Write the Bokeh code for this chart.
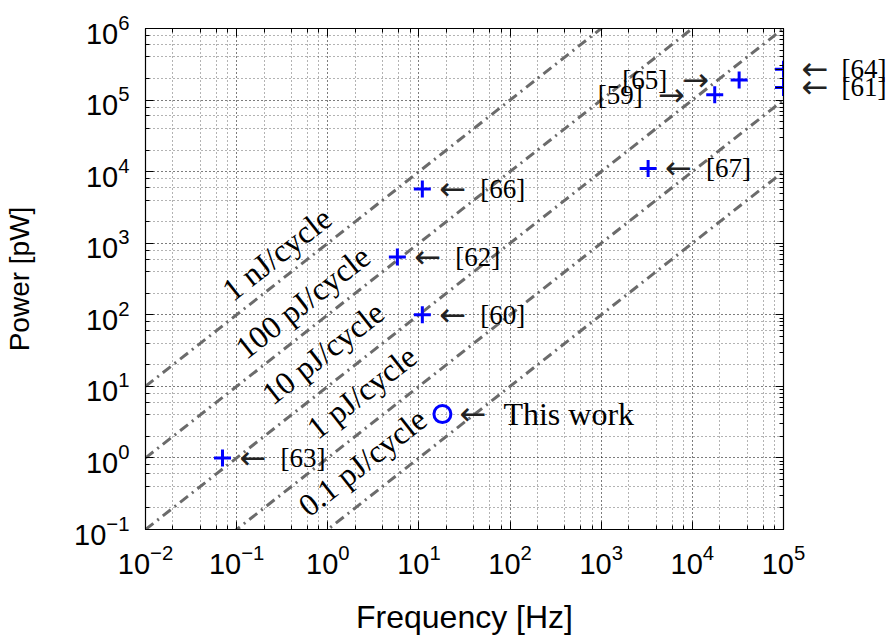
import math
from bokeh.plotting import figure
from bokeh.models import (LogAxis, LogTicker, FixedTicker, Range1d, ColumnDataSource,
                          LabelSet, Label)
from bokeh.embed import file_html
from bokeh.resources import INLINE

# ---- data ----
ref_names = ["[63]", "[62]", "[66]", "[60]", "[67]"]
ref_freq = [0.07, 5.8, 10.9, 10.9, 3270]
ref_power = [1.0, 640, 5700, 100, 11100]

edge_names = ["[64]", "[61]"]
edge_freq = [1.0e5, 1.0e5]
edge_power = [2.7e5, 1.5e5]

left_names = ["[65]", "[59]"]
left_freq = [32600, 17600]
left_power = [1.9e5, 1.19e5]

work_name = ["This work"]
work_freq = [18.1]
work_power = [4.1]

energy_pj = [1000, 100, 10, 1, 0.1]
energy_labels = ["1 nJ/cycle", "100 pJ/cycle", "10 pJ/cycle", "1 pJ/cycle", "0.1 pJ/cycle"]
# where each energy label's baseline centre sits (frequency, power)
energy_label_freq = [0.327, 0.63, 1.05, 2.8, 2.85]
energy_label_power = [536, 114, 22.2, 6.3, 0.66]

y_decades = [1e-1, 1e0, 1e1, 1e2, 1e3, 1e4, 1e5, 1e6]

x_lo, x_hi = 1e-2, 1e5
y_lo, y_hi = 1e-1, 1e6

SERIF = "Liberation Serif"
SANS = "Liberation Sans"
ARROWF = "DejaVu Sans"
ARROW_SIZE = "32px"
ARROW_COLOR = "#222222"
REF_SIZE = "27px"

p = figure(width=889, height=644, x_axis_type="log", y_axis_type="log",
           x_range=Range1d(x_lo, x_hi), y_range=Range1d(y_lo, y_hi),
           output_backend="svg", toolbar_location=None,
           min_border_left=145, min_border_right=106,
           min_border_top=28, min_border_bottom=115,
           x_axis_label="Frequency [Hz]", y_axis_label="Power [pW]")
p.background_fill_color = "white"
p.border_fill_color = "white"
p.outline_line_color = "black"
p.outline_line_width = 1.2

for g in (p.xgrid[0], p.ygrid[0]):
    g.grid_line_color = "black"
    g.grid_line_alpha = 0.6
    g.grid_line_dash = "1 3"
    g.grid_line_width = 1
    g.minor_grid_line_color = "black"
    g.minor_grid_line_alpha = 0.6
    g.minor_grid_line_dash = "1 3"
    g.minor_grid_line_width = 1


def style_axis(ax):
    ax.major_tick_in = 8
    ax.major_tick_out = 0
    ax.minor_tick_in = 4
    ax.minor_tick_out = 0
    ax.axis_line_color = "black"
    ax.major_tick_line_color = "black"
    ax.minor_tick_line_color = "black"
    ax.major_label_text_font = SANS
    ax.major_label_text_font_size = "29px"
    ax.major_label_text_color = "black"
    ax.axis_label_text_font = SANS
    ax.axis_label_text_font_size = "28px"
    ax.axis_label_text_font_style = "normal"
    ax.axis_label_text_color = "black"


style_axis(p.xaxis[0])
style_axis(p.yaxis[0])
p.xaxis[0].ticker = LogTicker(desired_num_ticks=8)
p.yaxis[0].ticker = LogTicker(desired_num_ticks=8)
p.xaxis[0].major_label_standoff = 14
p.yaxis[0].major_label_standoff = 16
p.xaxis[0].axis_label_standoff = 22
p.xaxis[0].axis_label_text_font_size = "32px"
p.yaxis[0].axis_label_standoff = 36

top_axis = LogAxis(ticker=LogTicker(desired_num_ticks=8))
style_axis(top_axis)
top_axis.major_label_text_font_size = "0px"
top_axis.major_label_text_alpha = 0
top_axis.major_label_standoff = 0
p.add_layout(top_axis, "above")

# right side: tick marks plus the arrows of the points sitting on the right edge
minor_y = [k * d for d in y_decades[:-1] for k in range(2, 10)]
right_axis = LogAxis(ticker=FixedTicker(ticks=y_decades + edge_power, minor_ticks=minor_y))
style_axis(right_axis)
labels_map = {v: "" for v in y_decades}
labels_map.update({v: "\u2190" for v in edge_power})
right_axis.major_label_overrides = labels_map
right_axis.major_label_text_font = ARROWF
right_axis.major_label_text_font_size = ARROW_SIZE
right_axis.major_label_text_color = ARROW_COLOR
right_axis.major_label_standoff = 18
p.add_layout(right_axis, "right")

text_axis = LogAxis(ticker=FixedTicker(ticks=edge_power),
                    major_label_overrides={v: n for v, n in zip(edge_power, edge_names)})
text_axis.axis_line_color = None
text_axis.major_tick_line_color = None
text_axis.minor_tick_line_color = None
text_axis.major_tick_in = 0
text_axis.major_tick_out = 0
text_axis.minor_tick_in = 0
text_axis.minor_tick_out = 0
text_axis.major_label_text_font = SERIF
text_axis.major_label_text_font_size = REF_SIZE
text_axis.major_label_text_color = "black"
text_axis.major_label_standoff = 10
p.add_layout(text_axis, "right")

# energy-per-cycle lines
for e in energy_pj:
    p.line([x_lo, x_hi], [e * x_lo, e * x_hi], line_color="#6b6b6b",
           line_width=3, line_dash="10 5 2 5")

# energy labels
ang = math.atan2(71.6, 91.1)
esrc = ColumnDataSource(dict(x=energy_label_freq, y=energy_label_power, t=energy_labels))
p.add_layout(LabelSet(x="x", y="y", text="t", source=esrc, angle=ang,
                      text_align="center", text_baseline="alphabetic",
                      text_font=SERIF, text_font_size="32px", text_color="black"))

# points
p.scatter(ref_freq, ref_power, marker="cross", size=17, line_width=3, color="blue")
p.scatter(edge_freq, edge_power, marker="cross", size=17, line_width=3, color="blue")
p.scatter(left_freq, left_power, marker="cross", size=17, line_width=3, color="blue")
p.scatter(work_freq, work_power, marker="circle", size=17, line_width=3,
          line_color="blue", fill_color=None)


def add_label(x, y, text, x_off, align, font, size, color="black"):
    p.add_layout(Label(x=x, y=y, text=text, x_offset=x_off, text_align=align,
                       text_baseline="middle", text_font=font,
                       text_font_size=size, text_color=color))


for n, f, pw in zip(ref_names, ref_freq, ref_power):
    add_label(f, pw, "\u2190", 17, "left", ARROWF, ARROW_SIZE, ARROW_COLOR)
    add_label(f, pw, n, 58, "left", SERIF, REF_SIZE)
for n, f, pw in zip(left_names, left_freq, left_power):
    add_label(f, pw, "\u2192", -30, "right", ARROWF, ARROW_SIZE, ARROW_COLOR)
    add_label(f, pw, n, -72, "right", SERIF, REF_SIZE)
for n, f, pw in zip(work_name, work_freq, work_power):
    add_label(f, pw, "\u2190", 17, "left", ARROWF, ARROW_SIZE, ARROW_COLOR)
    add_label(f, pw, n, 61, "left", SERIF, "32px")

open("out.html", "w").write(file_html(p, INLINE))
